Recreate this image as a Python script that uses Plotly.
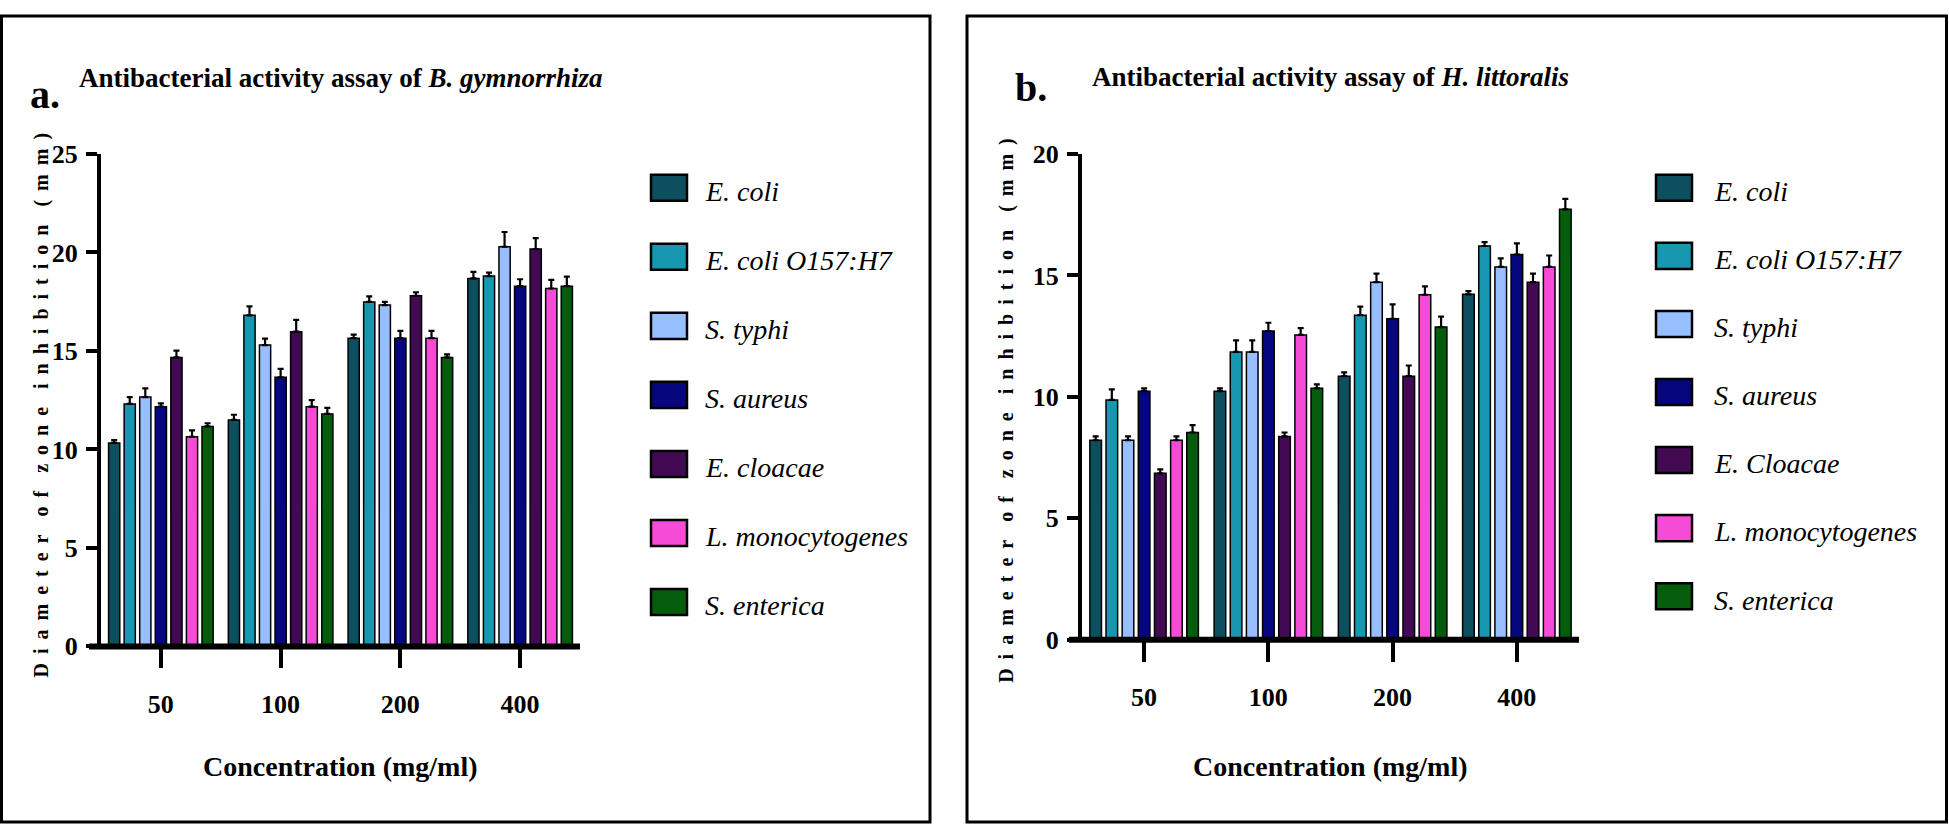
import plotly.graph_objects as go

W, H = 1949, 840

concentrations = ["50", "100", "200", "400"]

species_a = ["E. coli", "E. coli O157:H7", "S. typhi", "S. aureus",
             "E. cloacae", "L. monocytogenes", "S. enterica"]
species_b = ["E. coli", "E. coli O157:H7", "S. typhi", "S. aureus",
             "E. Cloacae", "L. monocytogenes", "S. enterica"]

colors = ["#0d4f5f", "#1798b0", "#97bfff", "#06067f",
          "#420a52", "#f54bd6", "#045c0c"]

# B. gymnorrhiza, zone of inhibition (mm), one row per species
gym_mean = [
    [10.33, 11.50, 15.65, 18.68],
    [12.31, 16.81, 17.49, 18.80],
    [12.66, 15.30, 17.33, 20.29],
    [12.17, 13.66, 15.65, 18.29],
    [14.67, 15.98, 17.80, 20.17],
    [10.64, 12.17, 15.65, 18.17],
    [11.17, 11.80, 14.67, 18.29],
]
gym_err = [
    [0.14, 0.26, 0.18, 0.33],
    [0.35, 0.45, 0.28, 0.18],
    [0.44, 0.33, 0.16, 0.75],
    [0.17, 0.43, 0.37, 0.35],
    [0.35, 0.60, 0.18, 0.56],
    [0.33, 0.33, 0.37, 0.44],
    [0.16, 0.31, 0.16, 0.48],
]

# H. littoralis
lit_mean = [
    [8.21, 10.23, 10.85, 14.22],
    [9.87, 11.85, 13.36, 16.21],
    [8.21, 11.85, 14.72, 15.35],
    [10.23, 12.71, 13.21, 15.86],
    [6.85, 8.37, 10.85, 14.72],
    [8.21, 12.55, 14.20, 15.35],
    [8.53, 10.35, 12.87, 17.72],
]
lit_err = [
    [0.16, 0.12, 0.16, 0.13],
    [0.44, 0.47, 0.35, 0.16],
    [0.16, 0.47, 0.35, 0.35],
    [0.12, 0.34, 0.60, 0.46],
    [0.16, 0.16, 0.44, 0.35],
    [0.16, 0.28, 0.35, 0.47],
    [0.30, 0.16, 0.43, 0.43],
]

FONT = "Liberation Serif"


def fx(px):
    return px / W


def fy(py):
    return 1 - py / H


def spaced(text):
    """Prism-style letter spacing for the rotated y title"""
    gap = "\u00a0\u2009"
    words = text.split(" ")
    return (gap * 2).join(gap.join(list(w)) for w in words)


# panel geometry in pixels
panels = [
    dict(tag="a.", title="Antibacterial activity assay of <i>B. gymnorrhiza</i>",
         names=species_a, mean=gym_mean, err=gym_err, ymax=25,
         left=101, right=580, top=145, bottom=655, axis_start=89,
         box=(1.5, 2, 930, 837), tag_x=28, tag_y=83.5, title_y=66.5,
         ylab_x=41.5, ylab_y=405,
         leg_sq=651, leg_txt=703, leg_step=71.5, xa="x", ya="y"),
    dict(tag="b.", title="Antibacterial activity assay of <i>H. littoralis</i>",
         names=species_b, mean=lit_mean, err=lit_err, ymax=20,
         left=1082, right=1579, top=145, bottom=648, axis_start=1069,
         box=(967, 2, 1946.5, 837), tag_x=1013, tag_y=76.5, title_y=65.5,
         ylab_x=1007, ylab_y=410,
         leg_sq=1656, leg_txt=1712, leg_step=70.5, xa="x2", ya="y2"),
]

fig = go.Figure()
shapes = []
annotations = []

for k, p in enumerate(panels):
    for i, name in enumerate(p["names"]):
        fig.add_trace(go.Bar(
            x=concentrations,
            y=p["mean"][i],
            name=name,
            xaxis=p["xa"], yaxis=p["ya"],
            marker=dict(color=colors[i], line=dict(color="black", width=1.5)),
            error_y=dict(type="data", symmetric=False, array=p["err"][i],
                         arrayminus=[0] * len(concentrations),
                         color="black", thickness=2.2, width=3),
            showlegend=False,
        ))

    suffix = "" if k == 0 else "2"
    fig.layout["xaxis" + suffix] = dict(
        domain=[fx(p["left"]), fx(p["right"])],
        anchor=p["ya"], type="category", range=[-0.5, 3.5],
        showline=False, showgrid=False, zeroline=False,
        ticks="outside", ticklen=21, tickwidth=4, tickcolor="black",
        ticklabelstandoff=13,
        tickfont=dict(family=FONT, size=26, color="black", weight="bold"),
    )
    fig.layout["yaxis" + suffix] = dict(
        domain=[fy(p["bottom"]), fy(p["top"])],
        anchor=p["xa"], range=[0, p["ymax"]], dtick=5,
        showline=True, linewidth=4, linecolor="black",
        showgrid=False, zeroline=False,
        ticks="outside", ticklen=11, tickwidth=4, tickcolor="black",
        ticklabelstandoff=3,
        tickfont=dict(family=FONT, size=26, color="black", weight="bold"),
    )

    # thick baseline extending past the y axis
    shapes.append(dict(type="line", xref="paper", yref="paper",
                       x0=fx(p["axis_start"]), x1=fx(p["right"]),
                       y0=fy(p["bottom"]), y1=fy(p["bottom"]),
                       line=dict(color="black", width=6)))
    # panel frame
    bx0, by0, bx1, by1 = p["box"]
    shapes.append(dict(type="rect", xref="paper", yref="paper",
                       x0=fx(bx0), x1=fx(bx1), y0=fy(by1), y1=fy(by0),
                       line=dict(color="black", width=3)))

    cx = (p["left"] + p["right"]) / 2
    annotations.append(dict(text=p["title"], x=fx(cx), y=fy(p["title_y"]),
                            xref="paper", yref="paper", showarrow=False,
                            xanchor="center", yanchor="middle",
                            font=dict(family=FONT, size=27, color="black", weight="bold")))
    annotations.append(dict(text=p["tag"], x=fx(p["tag_x"]), y=fy(p["tag_y"]),
                            xref="paper", yref="paper", showarrow=False,
                            xanchor="left", yanchor="middle",
                            font=dict(family=FONT, size=40, color="black", weight="bold")))
    annotations.append(dict(text="Concentration (mg/ml)", x=fx(cx), y=fy(779.5),
                            xref="paper", yref="paper", showarrow=False,
                            xanchor="center", yanchor="middle",
                            font=dict(family=FONT, size=28, color="black", weight="bold")))
    annotations.append(dict(text=spaced("Diameter of zone inhibition (mm)"),
                            x=fx(p["ylab_x"]), y=fy(p["ylab_y"]), textangle=-90,
                            xref="paper", yref="paper", showarrow=False,
                            xanchor="center", yanchor="middle",
                            font=dict(family=FONT, size=20, color="black", weight="bold")))

    # legend swatches
    for i, name in enumerate(p["names"]):
        yc = 180 + i * p["leg_step"]
        shapes.append(dict(type="rect", xref="paper", yref="paper",
                           x0=fx(p["leg_sq"]), x1=fx(p["leg_sq"] + 36),
                           y0=fy(yc + 13.5), y1=fy(yc - 13.5),
                           fillcolor=colors[i], line=dict(color="black", width=2.5)))
        annotations.append(dict(text="<i>" + name + "</i>", x=fx(p["leg_txt"]), y=fy(yc + 4),
                                xref="paper", yref="paper", showarrow=False,
                                xanchor="left", yanchor="middle",
                                font=dict(family=FONT, size=28, color="black")))

fig.update_layout(
    width=W, height=H,
    margin=dict(l=0, r=0, t=0, b=0),
    paper_bgcolor="white", plot_bgcolor="white",
    barmode="group", bargap=0.09, bargroupgap=0.28,
    shapes=shapes, annotations=annotations,
    showlegend=False,
)

fig.write_html("out.html", config={"displayModeBar": False},
               post_script="document.body.style.margin='0';")
